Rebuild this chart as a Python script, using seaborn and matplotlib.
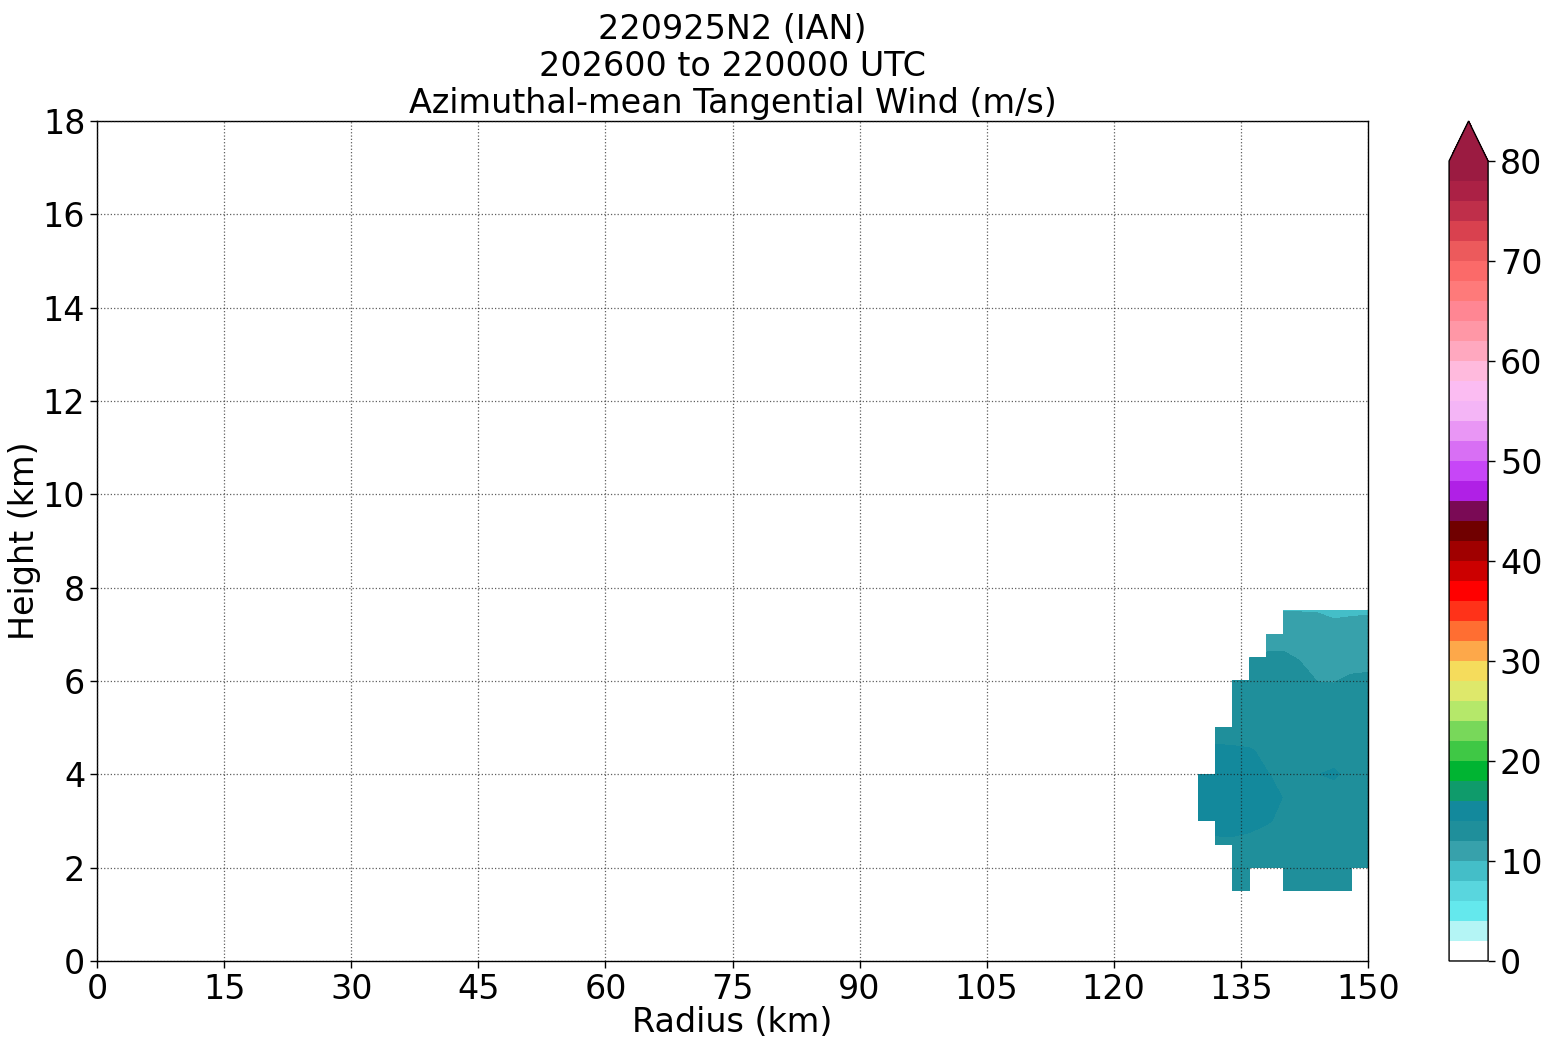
import numpy as np
import matplotlib
matplotlib.use('Agg')
import matplotlib.pyplot as plt
import matplotlib.colors as mcolors
import seaborn as sns

nan = np.nan

# radius (km) and height (km) of the grid points that have data
radius = [130, 132, 134, 136, 138, 140, 142, 144, 146, 148, 150]
height = [1.5, 2.0, 2.5, 3.0, 3.5, 4.0, 4.5, 5.0, 5.5, 6.0, 6.5, 7.0, 7.5]

# azimuthal-mean tangential wind (m/s), rows = height, cols = radius
vt = [
    [nan, nan, 13.0, 13.0, nan, 13.0, 13.0, 13.0, 13.0, 13.0, nan],
    [nan, nan, 13.2, 13.2, 13.1, 13.0, 13.0, 13.0, 13.0, 13.0, 13.0],
    [nan, 13.6, 13.7, 13.7, 13.5, 13.2, 13.1, 13.0, 13.0, 13.0, 13.0],
    [14.6, 14.7, 14.6, 14.3, 14.1, 13.8, 13.3, 13.2, 13.2, 13.1, 13.1],
    [14.8, 14.9, 14.8, 14.6, 14.3, 13.98, 13.5, 13.4, 13.3, 13.2, 13.2],
    [14.6, 14.7, 14.5, 14.3, 14.05, 13.8, 13.7, 13.97, 14.2, 13.6, 13.5],
    [nan, 14.2, 14.15, 14.1, 13.8, 13.6, 13.5, 13.4, 13.4, 13.3, 13.3],
    [nan, 13.5, 13.5, 13.4, 13.3, 13.2, 13.2, 13.1, 13.1, 13.0, 13.0],
    [nan, nan, 13.2, 13.2, 13.2, 13.0, 12.8, 12.6, 12.5, 12.8, 12.9],
    [nan, nan, 12.9, 12.8, 12.9, 12.8, 12.5, 11.98, 11.95, 12.2, 12.3],
    [nan, nan, nan, 11.97, 12.2, 12.25, 11.9, 11.3, 11.2, 11.5, 11.5],
    [nan, nan, nan, nan, 11.37, 11.3, 11.2, 11.0, 11.0, 11.0, 11.0],
    [nan, nan, nan, nan, nan, 9.97, 9.95, 9.91, 9.5, 9.68, 9.78],
]

# wind colour table, 0 -> 80 m/s every 2 m/s
wind_colors = [
    '#ffffff', '#b4f5f5', '#64e8ed', '#59d6de', '#44bec8', '#37a1ab', '#1f8f9b', '#13899c',
    '#0f9b6b', '#00b432', '#3fc845', '#78d85a', '#b5e86a', '#dee86b', '#f5dc5c', '#fda84a',
    '#ff6e32', '#ff3219', '#ff0000', '#cc0000', '#a00000', '#700000', '#7a0a55', '#b020e6',
    '#c746f7', '#d86ff4', '#e996f5', '#f4b5f6', '#fbbcf2', '#ffbadd', '#ffa8bf', '#ff97a6',
    '#ff8693', '#fe7a7a', '#fb6a69', '#ec5a5c', '#d9414f', '#bf2f4a', '#ab2145', '#9b1b41',
]
levels = np.arange(0, 82, 2)

sns.set_theme(style='ticks', rc={'axes.edgecolor': 'black', 'xtick.color': 'black',
                                 'ytick.color': 'black', 'text.color': 'black',
                                 'axes.labelcolor': 'black'})
plt.rcParams['font.family'] = ['DejaVu Sans']

cmap = mcolors.ListedColormap(sns.color_palette(wind_colors).as_hex())
cmap.set_over('#9b1b41')
norm = mcolors.BoundaryNorm(levels, cmap.N, extend='neither')

fig = plt.figure(figsize=(15.48, 10.45), dpi=100)
ax = fig.add_axes([0.0627, 0.0804, 0.8210, 0.8038])
cax = fig.add_axes([0.9361, 0.0804, 0.0252, 0.8038])

R, Z = np.meshgrid(radius, height)
cs = ax.contourf(R, Z, np.ma.masked_invalid(np.array(vt)), levels=levels,
                 cmap=cmap, norm=norm, extend='max', corner_mask=False)

ax.set_xlim(0, 150)
ax.set_ylim(0, 18)
ax.set_xticks(np.arange(0, 151, 15))
ax.set_yticks(np.arange(0, 19, 2))
ax.tick_params(labelsize=24, length=5, width=1)
ax.set_axisbelow(False)
ax.grid(True, linestyle=':', color='k', linewidth=0.9, alpha=0.7)
for s in ax.spines.values():
    s.set_linewidth(1.0)
    s.set_visible(True)

ax.set_xlabel('Radius (km)', fontsize=24, labelpad=0)
ax.set_ylabel('Height (km)', fontsize=24, labelpad=1)
ax.set_title('220925N2 (IAN)\n202600 to 220000 UTC\nAzimuthal-mean Tangential Wind (m/s)',
             fontsize=24, linespacing=1.15)

cb = fig.colorbar(cs, cax=cax, ticks=np.arange(0, 81, 10))
cb.minorticks_off()
cb.ax.tick_params(labelsize=24, length=5, width=1)
cb.outline.set_linewidth(1.0)

fig.savefig('out.png', dpi=100)
